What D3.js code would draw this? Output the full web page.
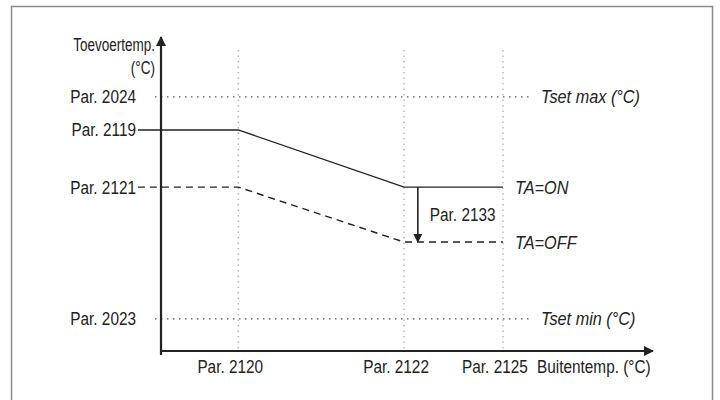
<!DOCTYPE html>
<html>
<head>
<meta charset="utf-8">
<script src="https://cdn.jsdelivr.net/npm/d3@7"></script>
<style>
  html, body { margin: 0; padding: 0; background: #fff; }
  svg text { font-family: "Liberation Sans", Arial, sans-serif; fill: #222; }
</style>
</head>
<body>
<svg id="chart" width="720" height="400"></svg>
<script>
// Heating curve: supply temperature versus outdoor temperature (schematic, parameter positions)
const yTickLabels = ["Par. 2023", "Par. 2121", "Par. 2119", "Par. 2024"];
const yTickValues = [10.2, 52.2, 70.4, 80.9];
const xTickLabels = ["Par. 2120", "Par. 2122", "Par. 2125"];
const xTickValues = [15.7, 49.4, 69.5];

// Curve with room thermostat ON (solid) and OFF (dashed)
const curveOnX  = [-4.7, 15.7, 49.4, 69.5];
const curveOnY  = [70.4, 70.4, 52.2, 52.2];
const curveOffX = [-4.7, 15.7, 49.4, 69.5];
const curveOffY = [52.2, 52.2, 34.7, 34.7];

// Limits
const limitLabels = ["Tset max (°C)", "Tset min (°C)"];
const limitValues = [80.9, 10.2];
const curveLabels = ["TA=ON", "TA=OFF"];
const curveLabelValues = [52.2, 34.7];
const shiftLabel = "Par. 2133";
const shiftX = 52.2;

const FS = 18.5;        // font size
const SX = 0.83;        // horizontal condensing for upright text
const SXI = 0.88;       // horizontal condensing for italic text

const svg = d3.select("#chart");
const x = d3.scaleLinear().domain([0, 100]).range([161, 653]);
const y = d3.scaleLinear().domain([0, 100]).range([351, 37]);

// Condensed text helper: positions via translate, narrows via scale
function label(sel, px, py, anchor, italic, sx) {
  const s = sx || (italic ? SXI : SX);
  return sel
    .attr("transform", (d, i) => `translate(${px(d, i)},${py(d, i)}) scale(${s},1)`)
    .attr("dy", "0.35em")
    .attr("text-anchor", anchor)
    .attr("font-size", FS)
    .attr("font-style", italic ? "italic" : "normal")
    .text(d => d);
}

// Frame
svg.append("rect").attr("x", 11.5).attr("y", 6.5).attr("width", 701).attr("height", 420)
  .attr("fill", "none").attr("stroke", "#8a8a8a").attr("stroke-width", 1.5);

const defs = svg.append("defs");
defs.append("marker").attr("id", "arrow").attr("viewBox", "0 0 10 10")
  .attr("refX", 9).attr("refY", 5).attr("markerWidth", 10).attr("markerHeight", 10)
  .attr("markerUnits", "userSpaceOnUse").attr("orient", "auto")
  .append("path").attr("d", "M0,0 L10,5 L0,10 Z").attr("fill", "#222");
defs.append("marker").attr("id", "arrowSmall").attr("viewBox", "0 0 10 10")
  .attr("refX", 9).attr("refY", 5).attr("markerWidth", 9).attr("markerHeight", 9)
  .attr("markerUnits", "userSpaceOnUse").attr("orient", "auto")
  .append("path").attr("d", "M0,0 L10,5 L0,10 Z").attr("fill", "#222");

// Vertical dotted guides at x ticks
svg.selectAll("line.vguide").data(xTickValues).join("line")
  .attr("x1", d => x(d)).attr("x2", d => x(d))
  .attr("y1", 50).attr("y2", y(0))
  .attr("stroke", "#aaa").attr("stroke-width", 1.2).attr("stroke-dasharray", "1.5,4");

// Horizontal dotted limit lines
svg.selectAll("line.limit").data(limitValues).join("line")
  .attr("x1", 155).attr("x2", 533)
  .attr("y1", d => y(d)).attr("y2", d => y(d))
  .attr("stroke", "#555").attr("stroke-width", 1.2).attr("stroke-dasharray", "1.5,4.5");

label(svg.selectAll("text.limit").data(limitLabels).join("text"),
  () => 541, (d, i) => y(limitValues[i]), "start", true);

// Curves
const line = d3.line().x(d => x(d[0])).y(d => y(d[1]));
svg.append("path").datum(d3.zip(curveOnX, curveOnY)).attr("d", line)
  .attr("fill", "none").attr("stroke", "#222").attr("stroke-width", 1.4);
svg.append("path").datum(d3.zip(curveOffX, curveOffY)).attr("d", line)
  .attr("fill", "none").attr("stroke", "#222").attr("stroke-width", 1.4)
  .attr("stroke-dasharray", "7,5");

label(svg.selectAll("text.curve").data(curveLabels).join("text"),
  () => 515, (d, i) => y(curveLabelValues[i]), "start", true);

// Shift arrow between the curves
svg.append("line")
  .attr("x1", x(shiftX)).attr("x2", x(shiftX))
  .attr("y1", y(curveLabelValues[0])).attr("y2", y(curveLabelValues[1]))
  .attr("stroke", "#222").attr("stroke-width", 1.6).attr("marker-end", "url(#arrowSmall)");
label(svg.selectAll("text.shift").data([shiftLabel]).join("text"),
  () => x(shiftX) + 12, () => (y(curveLabelValues[0]) + y(curveLabelValues[1])) / 2, "start", false);

// Axes
svg.append("line").attr("x1", x(0)).attr("x2", x(0)).attr("y1", y(0) + 4).attr("y2", y(100))
  .attr("stroke", "#222").attr("stroke-width", 2.2).attr("marker-end", "url(#arrow)");
svg.append("line").attr("x1", x(0) - 1).attr("x2", x(100)).attr("y1", y(0)).attr("y2", y(0))
  .attr("stroke", "#222").attr("stroke-width", 2.2).attr("marker-end", "url(#arrow)");

// Tick labels
label(svg.selectAll("text.ytick").data(yTickLabels).join("text"),
  () => 136, (d, i) => y(yTickValues[i]), "end", false);
label(svg.selectAll("text.xtick").data(xTickLabels).join("text"),
  (d, i) => x(xTickValues[i]) - 8, () => 367, "middle", false);

// Axis titles
label(svg.selectAll("text.ytitle").data(["Toevoertemp.", "(°C)"]).join("text"),
  () => 155, (d, i) => 45 + i * 23, "end", false, 0.73);
label(svg.selectAll("text.xtitle").data(["Buitentemp. (°C)"]).join("text"),
  () => 537, () => 367, "start", false);
</script>
</body>
</html>
